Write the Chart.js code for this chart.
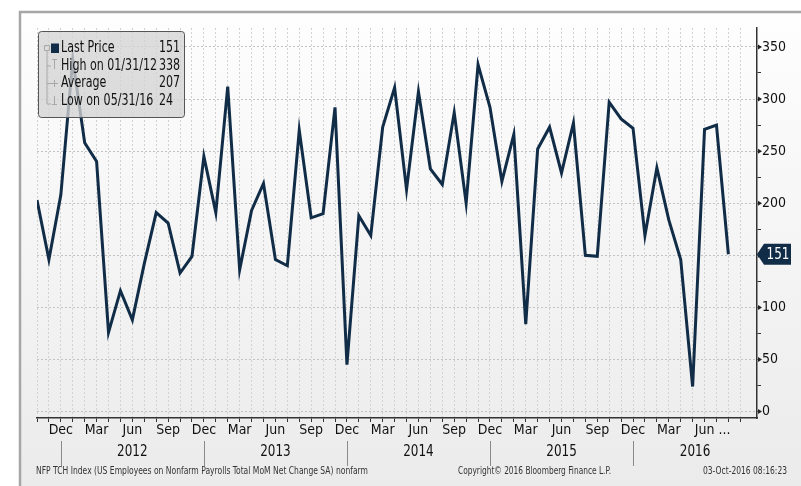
<!DOCTYPE html>
<html>
<head>
<meta charset="utf-8">
<script src="https://cdn.jsdelivr.net/npm/chart.js@4.4.0/dist/chart.umd.min.js"></script>
<style>
  body { margin: 0; background: #fff; }
  canvas { display: block; }
</style>
</head>
<body>
<canvas id="nfpChart" width="801" height="486"></canvas>
<script>
// monthly NFP change, Oct 2011 .. Aug 2016 (thousands)
const months = [
  'Oct 2011', 'Nov 2011', 'Dec 2011',
  'Jan 2012', 'Feb 2012', 'Mar 2012', 'Apr 2012', 'May 2012', 'Jun 2012', 'Jul 2012', 'Aug 2012', 'Sep 2012', 'Oct 2012', 'Nov 2012', 'Dec 2012',
  'Jan 2013', 'Feb 2013', 'Mar 2013', 'Apr 2013', 'May 2013', 'Jun 2013', 'Jul 2013', 'Aug 2013', 'Sep 2013', 'Oct 2013', 'Nov 2013', 'Dec 2013',
  'Jan 2014', 'Feb 2014', 'Mar 2014', 'Apr 2014', 'May 2014', 'Jun 2014', 'Jul 2014', 'Aug 2014', 'Sep 2014', 'Oct 2014', 'Nov 2014', 'Dec 2014',
  'Jan 2015', 'Feb 2015', 'Mar 2015', 'Apr 2015', 'May 2015', 'Jun 2015', 'Jul 2015', 'Aug 2015', 'Sep 2015', 'Oct 2015', 'Nov 2015', 'Dec 2015',
  'Jan 2016', 'Feb 2016', 'Mar 2016', 'Apr 2016', 'May 2016', 'Jun 2016', 'Jul 2016', 'Aug 2016'
];
const nfpValues = [
  203, 146, 208,
  338, 258, 240, 76, 116, 88, 142, 191, 181, 133, 149, 245,
  191, 312, 136, 193, 219, 146, 140, 270, 186, 190, 292, 45,
  188, 169, 273, 311, 213, 307, 233, 218, 287, 200, 333, 292,
  221, 266, 84, 252, 273, 229, 277, 150, 149, 297, 281, 272,
  169, 234, 184, 146, 24, 271, 275, 151
];
const shownMonths = ['Dec', 'Mar', 'Jun', 'Sep'];
const yTickValues = [0, 25, 50, 75, 100, 125, 150, 175, 200, 225, 250, 275, 300, 325, 350];
const years = ['2012', '2013', '2014', '2015', '2016'];
const legendLabels = ['Last Price', 'High on 01/31/12', 'Average', 'Low on 05/31/16'];
const legendValues = ['151', '338', '207', '24'];
const footerLeft = 'NFP TCH Index (US Employees on Nonfarm Payrolls Total MoM Net Change SA) nonfarm';
const footerMid = 'Copyright\u00A9 2016 Bloomberg Finance L.P.';
const footerRight = '03-Oct-2016 08:16:23';

const FAMILY = "'DejaVu Sans Condensed', 'DejaVu Sans', sans-serif";
const NAVY = '#112c47';

// squeeze text sideways, the bloomberg font is narrower than anything installed
function narrowText(ctx, text, x, y, sx, align) {
  ctx.save();
  ctx.translate(x, y);
  ctx.scale(sx, 1);
  ctx.textAlign = align || 'left';
  ctx.fillText(text, 0, 0);
  ctx.restore();
}

// frame, year row, footer, last price tag, legend box
const bbgDecor = {
  id: 'bbgDecor',
  beforeDraw(chart) {
    const {ctx, width, height} = chart;
    ctx.save();
    ctx.fillStyle = '#fff';
    ctx.fillRect(0, 0, width, height);
    const g = ctx.createLinearGradient(0, 12, 0, height);
    g.addColorStop(0, '#fefefe');
    g.addColorStop(1, '#ebebeb');
    ctx.fillStyle = g;
    ctx.fillRect(20, 12, width - 20, height - 12);
    ctx.strokeStyle = '#a6a6a6';
    ctx.lineWidth = 2.5;
    ctx.beginPath();
    ctx.moveTo(20, height);
    ctx.lineTo(20, 12);
    ctx.lineTo(width, 12);
    ctx.stroke();
    ctx.restore();
  },
  afterDraw(chart) {
    const {ctx, chartArea} = chart;
    const xs = chart.scales.x, ys = chart.scales.y;
    ctx.save();
    ctx.textBaseline = 'middle';

    // year separators at each Dec, year names centred between them
    const decX = [];
    months.forEach((m, i) => { if (m.startsWith('Dec')) decX.push(xs.getPixelForValue(i)); });
    ctx.strokeStyle = '#8a8a8a';
    ctx.lineWidth = 1;
    decX.forEach(x => {
      ctx.beginPath();
      ctx.moveTo(Math.round(x) + 0.5, 441);
      ctx.lineTo(Math.round(x) + 0.5, 466);
      ctx.stroke();
    });
    const bounds = decX.concat([chartArea.right]);
    ctx.fillStyle = '#111';
    ctx.font = '16px ' + FAMILY;
    const sxBig = 30.5 / ctx.measureText('2014').width;
    years.forEach((y, k) => {
      narrowText(ctx, y, (bounds[k] + bounds[k + 1]) / 2, 452, sxBig, 'center');
    });

    // "..." after the last month label
    const lastJun = months.lastIndexOf('Jun 2016');
    ctx.font = '14px ' + FAMILY;
    narrowText(ctx, '...', xs.getPixelForValue(lastJun) + ctx.measureText('Jun').width / 2 + 4, 430, 1, 'left');

    // footer
    ctx.font = '11px ' + FAMILY;
    ctx.fillStyle = '#333';
    ctx.textAlign = 'left';
    ctx.fillText(footerLeft, 36, 471, 332);
    ctx.fillText(footerMid, 458, 471, 153);
    ctx.fillText(footerRight, 703, 471, 84);

    // arrow heads on the labelled y ticks
    ctx.fillStyle = '#222';
    yTickValues.forEach(v => {
      if (v % 50 !== 0) return;
      const y = ys.getPixelForValue(v);
      ctx.beginPath();
      ctx.moveTo(chartArea.right + 1, y - 2.5);
      ctx.lineTo(chartArea.right + 5, y);
      ctx.lineTo(chartArea.right + 1, y + 2.5);
      ctx.closePath();
      ctx.fill();
    });

    // last price tag
    const last = nfpValues[nfpValues.length - 1];
    const ty = ys.getPixelForValue(last);
    const tx = chartArea.right;
    ctx.fillStyle = NAVY;
    ctx.beginPath();
    ctx.moveTo(tx, ty);
    ctx.lineTo(tx + 7, ty - 10.5);
    ctx.lineTo(tx + 34, ty - 10.5);
    ctx.lineTo(tx + 34, ty + 10.5);
    ctx.lineTo(tx + 7, ty + 10.5);
    ctx.closePath();
    ctx.fill();
    ctx.fillStyle = '#fff';
    ctx.font = '16px ' + FAMILY;
    narrowText(ctx, String(last), tx + 21, ty + 0.5, sxBig, 'center');

    // legend box
    const bx = 38.5, by = 31.5, bw = 146, bh = 86;
    ctx.fillStyle = 'rgba(212,212,212,0.78)';
    ctx.strokeStyle = '#555';
    ctx.lineWidth = 1;
    ctx.beginPath();
    ctx.roundRect(bx, by, bw, bh, 3);
    ctx.fill();
    ctx.stroke();

    const rowY = [48.5, 66, 83.5, 101];
    // tree lines
    ctx.strokeStyle = '#a8a8a8';
    ctx.beginPath();
    ctx.rect(44.5, 45.5, 5, 5);
    ctx.moveTo(47, 51); ctx.lineTo(47, 104);
    ctx.moveTo(47, 66); ctx.lineTo(51, 66);
    ctx.moveTo(52, 59.5); ctx.lineTo(57, 59.5);
    ctx.moveTo(54.5, 59.5); ctx.lineTo(54.5, 69);
    ctx.moveTo(47, 83.5); ctx.lineTo(58, 83.5);
    ctx.moveTo(54.5, 80); ctx.lineTo(54.5, 87);
    ctx.moveTo(47, 104); ctx.lineTo(51, 104);
    ctx.moveTo(54.5, 96); ctx.lineTo(54.5, 104.5);
    ctx.moveTo(52, 104.5); ctx.lineTo(57, 104.5);
    ctx.stroke();

    ctx.fillStyle = NAVY;
    ctx.fillRect(51, 43.5, 8, 9.5);

    ctx.fillStyle = '#111';
    ctx.font = '15px ' + FAMILY;
    const sxLeg = 96 / ctx.measureText('High on 01/31/12').width;
    legendLabels.forEach((lab, i) => {
      narrowText(ctx, lab, 61, rowY[i], sxLeg, 'left');
      narrowText(ctx, legendValues[i], 159, rowY[i], sxLeg, 'left');
    });

    ctx.restore();
  }
};

const ctx = document.getElementById('nfpChart');

new Chart(ctx, {
  type: 'line',
  data: {
    datasets: [{
      label: 'NFP TCH Index',
      data: nfpValues.map((v, i) => ({x: i, y: v})),
      borderColor: NAVY,
      borderWidth: 3,
      borderJoinStyle: 'miter',
      pointRadius: 0,
      tension: 0,
      fill: false
    }]
  },
  options: {
    responsive: false,
    animation: false,
    devicePixelRatio: 1,
    layout: { padding: { left: 37, top: 28, right: 0, bottom: 0 } },
    plugins: { legend: { display: false }, tooltip: { enabled: false } },
    scales: {
      x: {
        type: 'linear',
        position: 'bottom',
        min: 0,
        max: 60.4,
        afterBuildTicks: axis => { axis.ticks = axis.ticks.filter(t => Number.isInteger(t.value)); },
        afterFit: axis => { axis.height = 68; },
        grid: { color: '#d2d2d2', lineWidth: 1, tickColor: '#333', tickLength: 4 },
        border: { color: '#333', width: 1.5, dash: [2, 2] },
        ticks: {
          stepSize: 1,
          autoSkip: false,
          maxRotation: 0,
          padding: 0,
          color: '#111',
          font: { family: FAMILY, size: 14 },
          callback: v => {
            const m = (months[v] || '').slice(0, 3);
            return shownMonths.includes(m) ? m : '';
          }
        }
      },
      y: {
        type: 'linear',
        position: 'right',
        min: -6.2,
        max: 368.2,
        afterBuildTicks: axis => { axis.ticks = yTickValues.map(v => ({value: v})); },
        afterFit: axis => { axis.width = 44; },
        grid: {
          color: c => (c.tick && c.tick.value % 50 === 0) ? '#c2c2c2' : 'rgba(0,0,0,0)',
          tickColor: '#333',
          tickLength: 4
        },
        border: { color: '#333', width: 1.5, dash: [2, 2] },
        ticks: {
          autoSkip: false,
          padding: 1,
          color: '#111',
          font: { family: FAMILY, size: 14 },
          callback: v => (v % 50 === 0 ? String(v) : '')
        }
      }
    }
  },
  plugins: [bbgDecor]
});
</script>
</body>
</html>
